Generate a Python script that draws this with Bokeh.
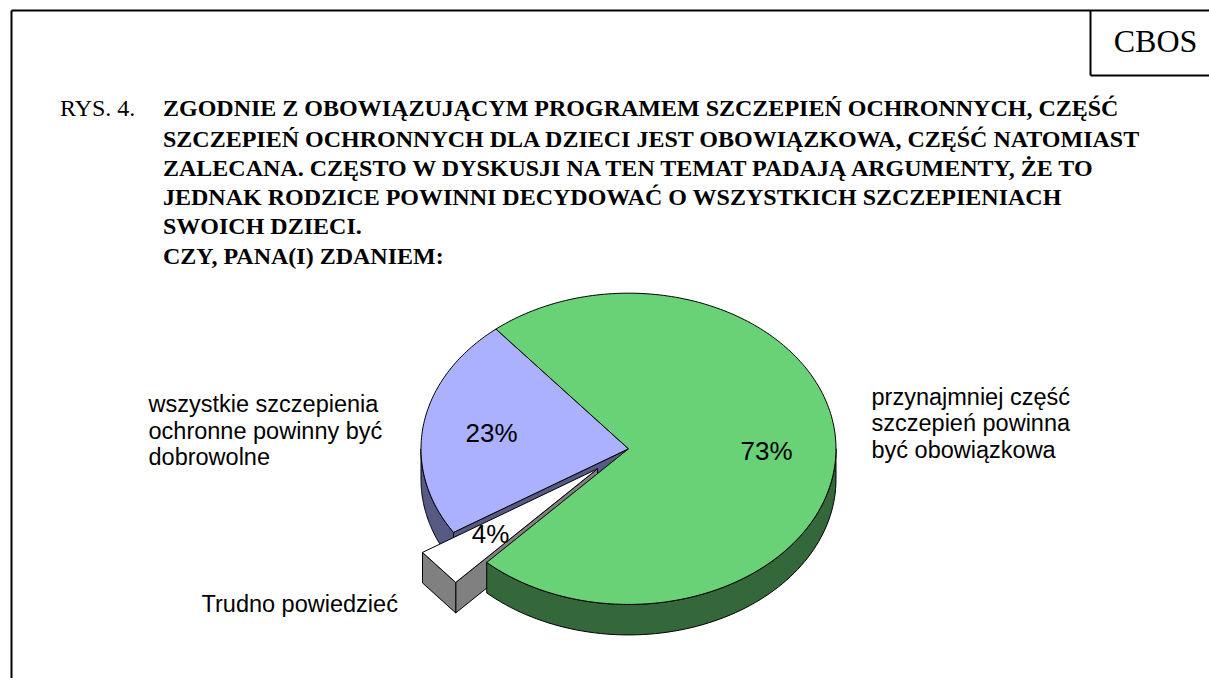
import numpy as np
from bokeh.plotting import figure
from bokeh.models import ColumnDataSource
from bokeh.core.properties import value
from bokeh.embed import file_html
from bokeh.resources import INLINE

# --- data ---
categories = ["wszystkie szczepienia ochronne powinny być dobrowolne",
              "Trudno powiedzieć",
              "przynajmniej część szczepień powinna być obowiązkowa"]
values = [23, 4, 73]
value_labels = ["23%", "4%", "73%"]
title_lines = [
    "ZGODNIE Z OBOWIĄZUJĄCYM PROGRAMEM SZCZEPIEŃ OCHRONNYCH, CZĘŚĆ",
    "SZCZEPIEŃ OCHRONNYCH DLA DZIECI JEST OBOWIĄZKOWA, CZĘŚĆ NATOMIAST",
    "ZALECANA. CZĘSTO W DYSKUSJI NA TEN TEMAT PADAJĄ ARGUMENTY, ŻE TO",
    "JEDNAK RODZICE POWINNI DECYDOWAĆ O WSZYSTKICH SZCZEPIENIACH",
    "SWOICH DZIECI.",
    "CZY, PANA(I) ZDANIEM:",
]
title_y = [107, 138, 167, 196, 225, 255]
label_lines = [
    ("wszystkie szczepienia", 148, 403), ("ochronne powinny być", 148, 430), ("dobrowolne", 148, 456),
    ("przynajmniej część", 871, 396), ("szczepień powinna", 871, 422), ("być obowiązkowa", 871, 449),
    ("Trudno powiedzieć", 201, 603),
]
value_pos = [(491, 432), (490, 533), (766, 450)]

# --- style / geometry ---
FACE = ["#ABB1FF", "#FFFFFF", "#69D276"]
SIDE = ["#565A85", "#808080", "#34673A"]
CX, CY, RX, K, DEPTH = 628, 448.3, 207.5, 0.75, 30.5
START = 129.7
EXPLODE = (-31, 20)

W, H = 1209, 678
p = figure(width=W, height=H, x_range=(0, W), y_range=(H, 0),
           output_backend="svg", toolbar_location=None, min_border=0)
p.axis.visible = False
p.grid.visible = False
p.outline_line_color = None
p.background_fill_color = "white"

ang = [START]
for v in values:
    ang.append(ang[-1] + v / sum(values) * 360)


def rim(a0, a1, ox=0, oy=0, dz=0, n=80):
    t = np.radians(np.linspace(a0, a1, n))
    return CX + ox + RX * np.cos(t), CY + oy + dz - RX * K * np.sin(t)


def patch(xs, ys, color):
    p.patch(list(xs), list(ys), fill_color=color, line_color="black", line_width=1, line_join="round")


bx, by = rim(180, ang[1])
patch(np.r_[bx, bx[::-1]], np.r_[by, by[::-1] + DEPTH], SIDE[0])
ex, ey = rim(ang[1], ang[1], n=1)
patch([CX, ex[0], ex[0], CX], [CY, ey[0], ey[0] + DEPTH, CY + DEPTH], SIDE[0])

ax, ay = CX + EXPLODE[0], CY + EXPLODE[1]
wx, wy = rim(ang[1], ang[2], *EXPLODE, n=2)
patch([wx[1], ax, ax, wx[1]], [wy[1], ay, ay + DEPTH, wy[1] + DEPTH], SIDE[1])
patch([wx[0], wx[1], wx[1], wx[0]], [wy[0], wy[1], wy[1] + DEPTH, wy[0] + DEPTH], SIDE[1])
patch([ax, wx[0], wx[1]], [ay, wy[0], wy[1]], FACE[1])

gx, gy = rim(ang[2], 360)
patch(np.r_[gx, gx[::-1]], np.r_[gy, gy[::-1] + DEPTH], SIDE[2])

tx, ty = rim(ang[0], ang[1])
patch(np.r_[CX, tx], np.r_[CY, ty], FACE[0])
tx, ty = rim(ang[2], ang[3], n=240)
patch(np.r_[CX, tx], np.r_[CY, ty], FACE[2])

p.segment([11, 11, 1090, 1090], [10, 10, 10, 75], [11, 1209, 1090, 1209], [678, 10, 75, 75],
          line_color="black", line_width=2)


def texts(xs, ys, ts, font, size, style="normal", align="left"):
    src = ColumnDataSource(dict(x=xs, y=ys, t=ts))
    p.text("x", "y", text="t", source=src, text_font=value(font), text_font_size=value(size),
           text_font_style=value(style), text_align=value(align), text_baseline=value("middle"),
           text_color="black")


texts([162.5] * len(title_lines), title_y, title_lines, "Liberation Serif", "24px", "bold")
texts([59.5], [107], ["RYS. 4."], "Liberation Serif", "24px")
texts([1155], [40], ["CBOS"], "Liberation Serif", "32px", align="center")
texts([l[1] for l in label_lines], [l[2] for l in label_lines], [l[0] for l in label_lines],
      "Liberation Sans", "23.5px")
texts([v[0] for v in value_pos], [v[1] for v in value_pos], value_labels,
      "Liberation Sans", "26px", align="center")

open("out.html", "w").write(file_html(p, INLINE))
